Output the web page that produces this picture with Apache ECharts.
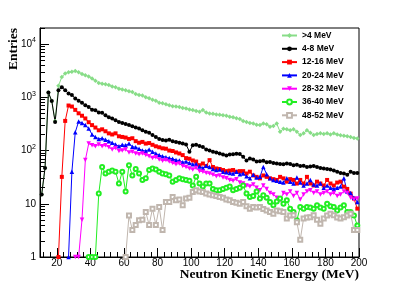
<!DOCTYPE html>
<html><head><meta charset="utf-8">
<script src="https://cdn.jsdelivr.net/npm/echarts@6/dist/echarts.min.js"></script>
<style>html,body{margin:0;padding:0;background:#fff}#c{width:399px;height:286px}</style>
</head><body><div id="c"></div>
<script>
const energy = [11,13,15,17,19,21,23,25,27,29,31,33,35,37,39,41,43,45,47,49,51,53,55,57,59,61,63,65,67,69,71,73,75,77,79,81,83,85,87,89,91,93,95,97,99,101,103,105,107,109,111,113,115,117,119,121,123,125,127,129,131,133,135,137,139,141,143,145,147,149,151,153,155,157,159,161,163,165,167,169,171,173,175,177,179,181,183,185,187,189,191,193,195,197,199];

const seriesNames = ['>4 MeV','4-8 MeV','12-16 MeV','20-24 MeV','28-32 MeV','36-40 MeV','48-52 MeV'];

const gt4 = [15,47,1230,850,360,1650,2400,2800,2950,3000,
3100,2950,2750,2600,2450,2250,2050,1850,1800,1750,
1700,1600,1550,1450,1400,1350,1300,1250,1150,1100,
1080,1000,960,900,860,790,770,740,710,680,
670,660,630,615,590,575,555,535,575,515,
495,490,475,470,460,450,430,420,405,390,
360,345,330,320,305,300,320,310,280,290,
320,225,255,250,240,250,225,195,210,240,
215,195,205,210,205,210,200,210,200,193,
190,185,180,172,168];

const e4to8 = [15,47,1230,850,345,1350,1550,1350,1180,1100,
950,860,790,710,660,580,570,520,510,460,
420,400,370,345,330,315,300,285,270,258,
240,225,215,195,180,165,158,155,160,150,
145,140,135,130,95,125,128,122,117,105,
100,95,92,88,84,81,84,85,87,86,
76,65,71,68,62,63,64,60,61,58,
57,56,55,57,56,53,54,51,52,49,
50,51,49,47,46,45,44,42,40,38,
37,35,40,38,38];

const e12to16 = [null,null,null,null,null,1,32,360,700,670,
580,500,450,400,340,300,270,240,250,230,
210,200,210,185,180,175,165,170,150,140,
145,135,138,128,120,115,110,108,100,98,
92,88,82,72,70,65,62,53,57,51,
66,49,46,45,43,41,42,43,40,41,
41,37,40,34,32,30,34,32,30,29,
28,32,30,26,29,28,24,28,24,32,
24,22,26,24,22,28,24,22,25,26,
21,19,15.5,12.5,8.1];

const e20to24 = [null,null,null,null,null,null,null,null,1,40,
220,350,330,300,260,200,180,165,170,160,
150,140,130,120,128,125,135,118,115,108,
100,98,105,95,88,82,78,75,72,70,
66,65,60,62,58,55,56,50,47,52,
49,45,43,44,40,39,38,37,40,36,
37,33,30,35,31,32,49,36,30,28,
27,26,25,30,26,24,31,25,22,24,
28,23,22,24,20,22,20,19,20,21,
30,17,16,13,10.8];

const e28to32 = [null,null,null,null,null,null,null,null,null,null,
1,1,5,66,135,125,120,130,120,125,
115,105,112,98,100,105,92,95,88,85,
88,82,78,72,75,68,64,66,62,58,
55,57,51,49,46,44,47,41,40,38,
37,35,33,34,31,30,28,27,29,25,
24,22,21,23,20,18,22,19,16,15,
13,11.6,16,15,17,14,16,12,15,17,
18,16,17,15,16,17,15,16,14,15,
17,16,13,12,12.5];

const e36to40 = [null,null,null,null,null,null,null,null,null,null,
null,null,null,null,1,1,1,15.5,49,37,
40,42,40,24,40,17,53,34,45,37,
28,30,43,46,44,40,37,36,34,26,
28,30,29,28,27,22,32,24,21,24,
24,19,18,18,19,20,21,18,19,20,
22,15.5,13.4,14,17,12.5,14.5,13,10.8,9.4,
11,12.5,10,11.6,8.1,7,4.9,8.7,8.1,8.7,
8.5,8.1,9.4,8.5,8.1,10,9,8.7,7.5,8.5,
9.4,7,7,6,3.9];

const e48to52 = [null,null,null,null,null,null,null,null,null,null,
null,null,null,null,null,null,null,null,null,null,
null,null,null,null,null,1,6,3.2,4,4.9,
5,7,4,8.1,4,8.7,3.2,10.8,10.8,13.4,
11.6,12,9.4,12.5,13,16.6,18,17,16.6,15.5,
15,14.5,14,13.4,13,12,11.6,10.8,10.5,10,
10.8,9,8.1,8.7,8.5,8.7,8,7.5,7,6.5,
7.5,7.2,7,5.3,6,6.1,4.5,2.1,5.3,5.5,
5.6,6.1,5,4.2,5.3,6,6.5,6.1,5.5,5.3,
5.6,6,6.5,3.2,3.2];

const xMajorTicks = [20,40,60,80,100,120,140,160,180,200];
const xMinorTicks = [12,16,24,28,32,36,44,48,52,56,64,68,72,76,84,88,92,96,104,108,112,116,124,128,132,136,144,148,152,156,164,168,172,176,184,188,192,196];
const yMajorTicks = [1,10,100,1000,10000];
const yMinorTicks = [2,3,4,5,6,7,8,9,20,30,40,50,60,70,80,90,200,300,400,500,600,700,800,900,2000,3000,4000,5000,6000,7000,8000,9000,20000];

const allValues = [gt4,e4to8,e12to16,e20to24,e28to32,e36to40,e48to52];
const styles = [
  {color:'#88dd88', symbol:'diamond', size:4.5, rot:0, bw:0},
  {color:'#000000', symbol:'circle', size:4, rot:0, bw:0},
  {color:'#ff0000', symbol:'rect', size:4, rot:0, bw:0},
  {color:'#0000ff', symbol:'triangle', size:4.5, rot:0, bw:0},
  {color:'#ff00ff', symbol:'triangle', size:4.5, rot:180, bw:0},
  {color:'#22ee22', symbol:'emptyCircle', size:4, rot:0, bw:1},
  {color:'#c0b6ae', symbol:'emptyRect', size:4, rot:0, bw:1}
];

const chart = echarts.init(document.getElementById('c'), null, {renderer:'canvas'});
const series = allValues.map((vals, k) => ({
  name: seriesNames[k],
  type: 'line',
  xAxisIndex: 0, yAxisIndex: 0,
  data: energy.map((e, i) => [e, vals[i]]),
  symbol: styles[k].symbol,
  symbolSize: styles[k].size,
  symbolRotate: styles[k].rot,
  showSymbol: true,
  connectNulls: false,
  lineStyle: {color: styles[k].color, width: 1},
  itemStyle: {color: styles[k].color, borderColor: styles[k].color, borderWidth: styles[k].bw},
  emphasis: {disabled: true},
  animation: false
}));

const supFmt = v => {
  if (v === 1) return '1';
  if (v === 10) return '10';
  const ex = Math.round(Math.log10(v));
  return '10{sup|' + ex + '}';
};

chart.setOption({
  animation: false,
  backgroundColor: '#fff',
  grid: {left: 40, right: 40, top: 28, bottom: 29, show: true, borderColor: '#000', borderWidth: 1, backgroundColor: 'transparent'},
  legend: {
    orient: 'vertical', left: 281, top: 30.5, padding: 0,
    itemWidth: 15, itemHeight: 6, itemGap: 3.3,
    data: seriesNames,
    textStyle: {fontSize: 8.5, fontWeight: 'bold', fontFamily: 'Liberation Sans', color: '#000', lineHeight: 10},
    selectedMode: false
  },
  xAxis: [
    {type: 'value', min: 10, max: 200, position: 'bottom',
     axisLine: {show: true, onZero: false, lineStyle: {color: '#000', width: 1}},
     axisTick: {show: true, inside: true, length: 9, customValues: xMajorTicks, lineStyle: {color: '#000'}},
     axisLabel: {customValues: xMajorTicks, fontSize: 10, fontFamily: 'Liberation Sans', color: '#000', margin: 1},
     splitLine: {show: false}},
    {type: 'value', min: 10, max: 200, position: 'bottom',
     axisLine: {show: false},
     axisTick: {show: true, inside: true, length: 5, customValues: xMinorTicks, lineStyle: {color: '#000'}},
     axisLabel: {show: false},
     splitLine: {show: false}}
  ],
  yAxis: [
    {type: 'log', logBase: 10, min: 1, max: 20000, position: 'left',
     axisLine: {show: true, onZero: false, lineStyle: {color: '#000', width: 1}},
     axisTick: {show: true, inside: true, length: 9, customValues: yMajorTicks, lineStyle: {color: '#000'}},
     axisLabel: {customValues: yMajorTicks, formatter: supFmt, fontSize: 10, fontFamily: 'Liberation Sans', color: '#000', margin: 4,
       lineHeight: 14,
       rich: {sup: {fontSize: 7, fontFamily: 'Liberation Sans', color: '#000', verticalAlign: 'top', lineHeight: 8}}},
     splitLine: {show: false}},
    {type: 'log', logBase: 10, min: 1, max: 20000, position: 'left',
     axisLine: {show: false},
     axisTick: {show: true, inside: true, length: 5, customValues: yMinorTicks, lineStyle: {color: '#000'}},
     axisLabel: {show: false},
     splitLine: {show: false}}
  ],
  graphic: [
    {type: 'text', x: 13.5, y: 28, rotation: Math.PI / 2,
     style: {text: 'Entries', font: 'bold 13.5px "Liberation Serif"', fill: '#000', textAlign: 'right', textVerticalAlign: 'middle', verticalAlign: 'middle'}},
    {type: 'text', x: 359, y: 274.5,
     style: {text: 'Neutron Kinetic Energy (MeV)', font: 'bold 13.5px "Liberation Serif"', fill: '#000', textAlign: 'right', textVerticalAlign: 'middle', verticalAlign: 'middle'}}
  ],
  series: series
});
</script></body></html>
